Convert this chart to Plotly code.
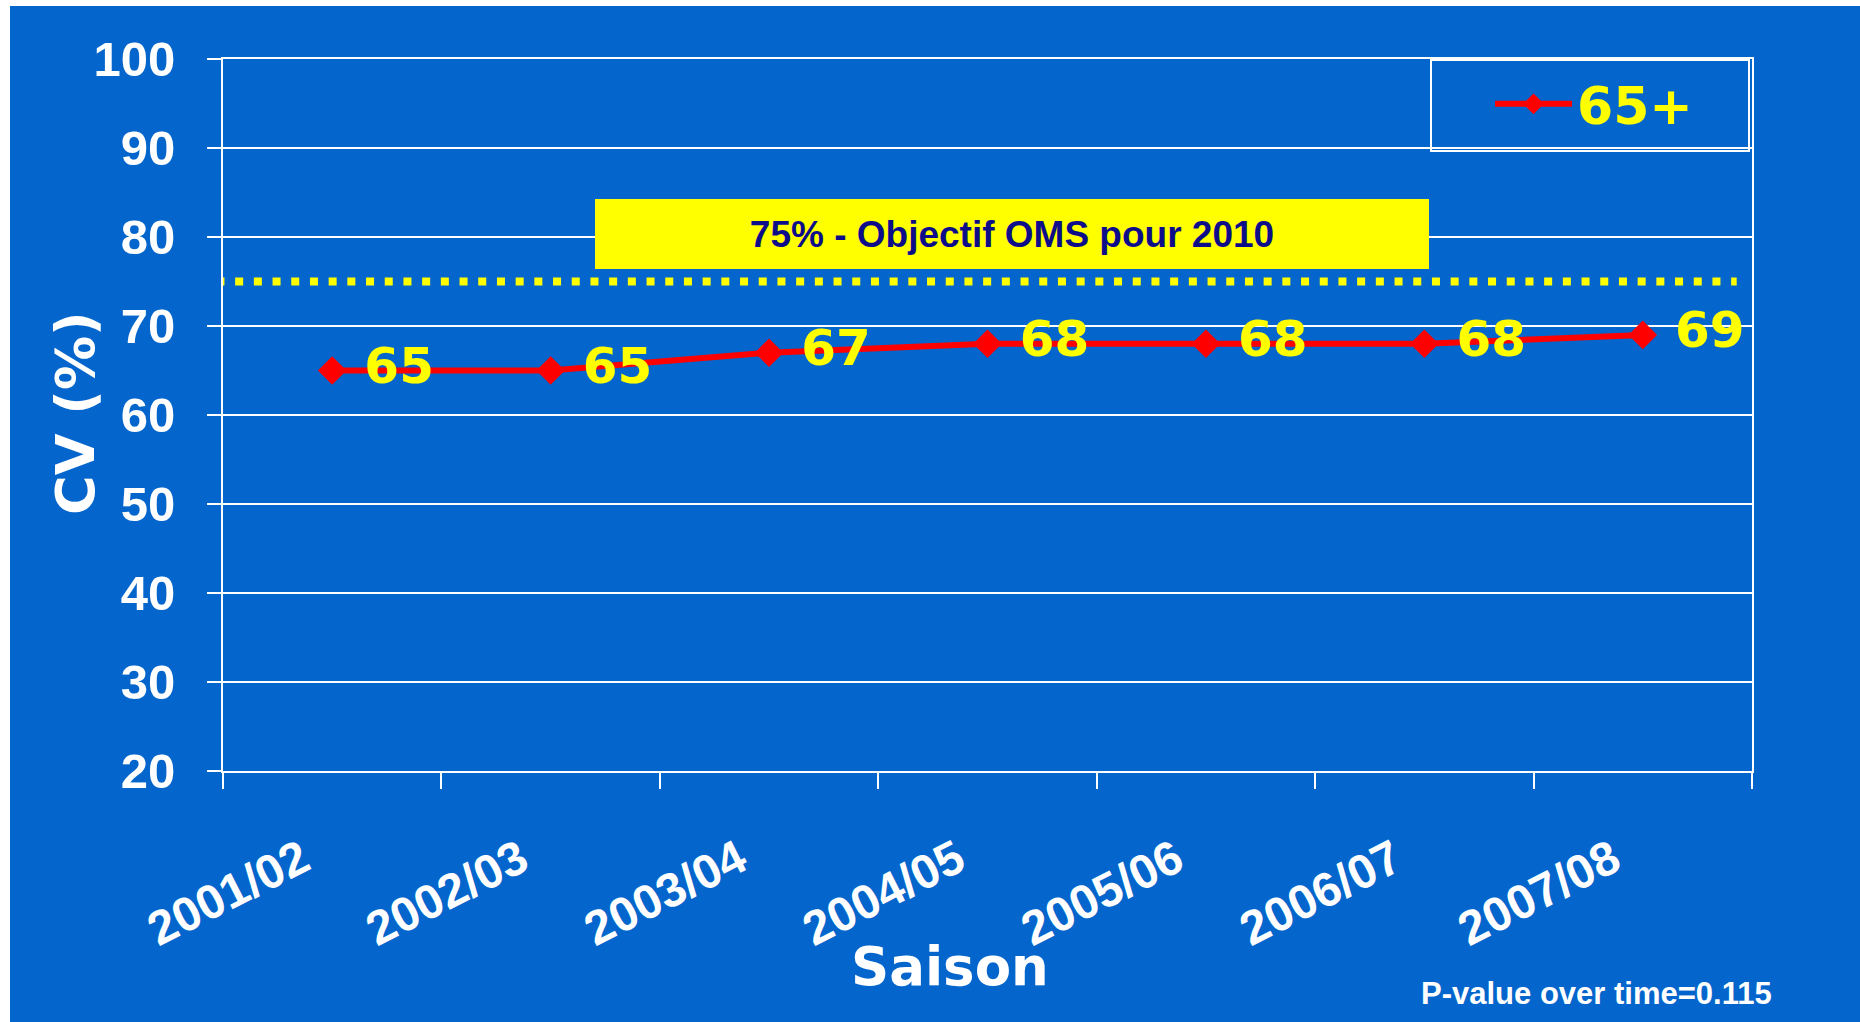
import plotly.graph_objects as go

# ---- data ----
categories = ["2001/02", "2002/03", "2003/04", "2004/05", "2005/06", "2006/07", "2007/08"]
values = [65, 65, 67, 68, 68, 68, 69]
series_name = "65+"
target_value = 75
target_label = "75% - Objectif OMS pour 2010"
y_tick_values = [20, 30, 40, 50, 60, 70, 80, 90, 100]
y_title = "CV (%)"
x_title = "Saison"
note_text = "P-value over time=0.115"

# ---- style ----
BLUE = "#0466CC"
WHITE = "#FFFFFF"
YELLOW = "#FFFF00"
RED = "#FF0000"
NAVY = "#0D0D8A"
BOLD_WIDE = "DejaVu Sans"
BOLD_ARIAL = "Liberation Sans"

W, H = 1850, 1016
ML, MR, MT, MB = 213, 108, 53, 251
PW, PH = W - ML - MR, H - MT - MB


def px_to_paper_x(px):
    return (px - ML) / PW


def px_to_paper_y(py):
    return (H - MB - py) / PH


fig = go.Figure()

fig.add_trace(go.Scatter(
    x=categories,
    y=values,
    name=series_name,
    mode="lines+markers+text",
    text=["\u00a0" + str(v) for v in values],
    textposition="middle right",
    textfont=dict(family=BOLD_WIDE, size=50, color=YELLOW, weight="bold"),
    line=dict(color=RED, width=6),
    marker=dict(symbol="diamond", size=22, color=RED),
    cliponaxis=False,
))

# target dotted line
fig.add_shape(
    type="line", xref="x", yref="y",
    x0=-0.53, x1=6.43, y0=target_value, y1=target_value,
    line=dict(color=YELLOW, width=8, dash="8px,10.7px"),
    layer="above",
)

# target label box
fig.add_annotation(
    xref="paper", yref="paper",
    x=px_to_paper_x(1002), y=px_to_paper_y(228),
    xanchor="center", yanchor="middle",
    text=target_label, showarrow=False,
    width=834, height=70, bgcolor=YELLOW, borderpad=0, borderwidth=0,
    font=dict(family=BOLD_ARIAL, size=37, color=NAVY, weight="bold"),
)

# legend box
fig.add_shape(
    type="rect", xref="paper", yref="paper",
    x0=px_to_paper_x(1421), x1=px_to_paper_x(1739),
    y0=px_to_paper_y(145), y1=px_to_paper_y(54),
    line=dict(color=WHITE, width=2), fillcolor="rgba(0,0,0,0)",
    layer="above",
)

# axis titles and note
fig.add_annotation(
    xref="paper", yref="paper",
    x=px_to_paper_x(65), y=px_to_paper_y(407),
    xanchor="center", yanchor="middle", textangle=-90,
    text=y_title, showarrow=False,
    font=dict(family=BOLD_WIDE, size=54, color=WHITE, weight="bold"),
)
fig.add_annotation(
    xref="paper", yref="paper",
    x=px_to_paper_x(940), y=px_to_paper_y(961),
    xanchor="center", yanchor="middle",
    text=x_title, showarrow=False,
    font=dict(family=BOLD_WIDE, size=53, color=WHITE, weight="bold"),
)
fig.add_annotation(
    xref="paper", yref="paper",
    x=px_to_paper_x(1764), y=px_to_paper_y(987),
    xanchor="right", yanchor="middle",
    text=note_text, showarrow=False,
    font=dict(family=BOLD_ARIAL, size=31, color=WHITE, weight="bold"),
)

fig.update_layout(
    width=W, height=H,
    margin=dict(l=ML, r=MR, t=MT, b=MB, pad=0),
    paper_bgcolor=BLUE, plot_bgcolor=BLUE,
    showlegend=True,
    legend=dict(
        x=px_to_paper_x(1480), y=px_to_paper_y(98),
        xanchor="left", yanchor="middle",
        bgcolor="rgba(0,0,0,0)", borderwidth=0,
        itemwidth=77,
        font=dict(family=BOLD_WIDE, size=52, color=YELLOW, weight="bold"),
    ),
    xaxis=dict(
        type="category",
        range=[-0.5, len(categories) - 0.5],
        showgrid=False,
        showline=True, linecolor=WHITE, linewidth=2, mirror=True,
        ticks="outside", tickson="boundaries", ticklen=16, tickwidth=2, tickcolor=WHITE,
        tickangle=-27,
        tickfont=dict(family=BOLD_ARIAL, size=48, color=WHITE, weight="bold"),
        ticklabelstandoff=40,
        ticklabelshift=-30,
        zeroline=False,
        fixedrange=True,
    ),
    yaxis=dict(
        range=[20, 100],
        tickvals=y_tick_values,
        showgrid=True, gridcolor=WHITE, gridwidth=2,
        showline=True, linecolor=WHITE, linewidth=2, mirror=True,
        ticks="outside", ticklen=14, tickwidth=2, tickcolor=WHITE,
        tickfont=dict(family=BOLD_ARIAL, size=49, color=WHITE, weight="bold"),
        ticklabelstandoff=22,
        zeroline=False,
        fixedrange=True,
    ),
)

post = """
document.documentElement.style.overflow='hidden';
document.body.style.overflow='hidden';
document.body.style.margin='6px 0 0 10px';
document.body.style.background='#FFFFFF';
"""

fig.write_html("out.html", post_script=post, config={"displayModeBar": False})
